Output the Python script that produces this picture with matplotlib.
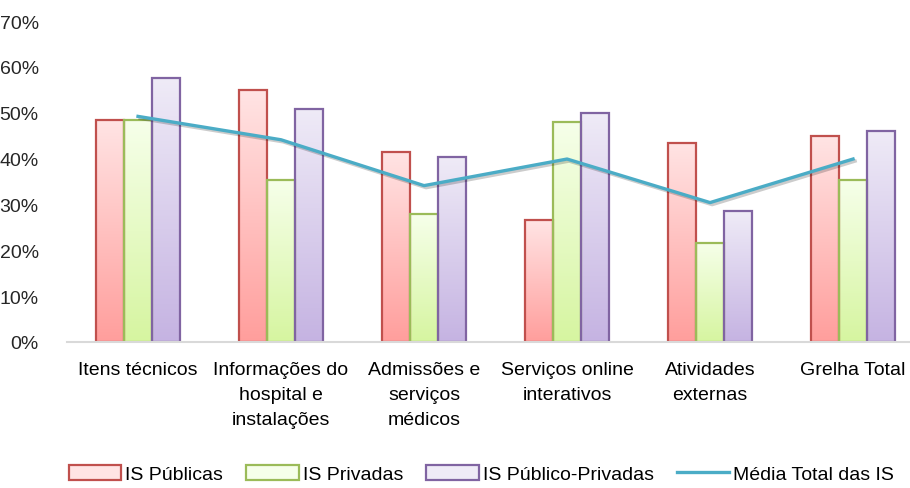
import numpy as np
import matplotlib
matplotlib.use('Agg')
import matplotlib.pyplot as plt
import matplotlib.patheffects as pe
from matplotlib.colors import LinearSegmentedColormap
from matplotlib.patches import Patch
from matplotlib.lines import Line2D

categories = ['Itens técnicos', 'Informações do\nhospital e\ninstalações',
              'Admissões e\nserviços\nmédicos', 'Serviços online\ninterativos',
              'Atividades\nexternas', 'Grelha Total']
publicas = [48.4, 54.9, 41.5, 26.5, 43.5, 44.9]
privadas = [48.4, 35.3, 27.9, 47.9, 21.6, 35.4]
publico_privadas = [57.5, 50.9, 40.4, 50.0, 28.5, 46.0]
media_total = [49.2, 44.1, 34.1, 39.9, 30.4, 39.9]
y_ticks = [0, 10, 20, 30, 40, 50, 60, 70]

plt.rcParams['font.family'] = ['Liberation Sans Narrow', 'Liberation Sans', 'DejaVu Sans']
plt.rcParams['font.size'] = 14


def gradient_bars(ax, bars, top_color, bottom_color):
    cmap = LinearSegmentedColormap.from_list('g', [bottom_color, top_color])
    grad = np.linspace(0, 1, 256).reshape(-1, 1)
    for b in bars:
        x, y = b.get_xy()
        w, h = b.get_width(), b.get_height()
        im = ax.imshow(grad, extent=[x, x + w, y, y + h], origin='lower',
                       cmap=cmap, aspect='auto', zorder=1.5)
        im.set_clip_path(b)


fig = plt.figure(figsize=(9.1, 4.89), dpi=100)
ax = fig.add_axes([0.0731, 0.2986, 0.9429, 0.6564])

x = np.arange(len(categories))
w = 0.195
series = [
    (publicas, '#C0504D', '#FFE4E4', '#FF9E9C', 'IS Públicas'),
    (privadas, '#9BBB59', '#F6FFEA', '#D6F5A0', 'IS Privadas'),
    (publico_privadas, '#8064A2', '#EFEBF7', '#C5B3E2', 'IS Público-Privadas'),
]
handles = []
for i, (vals, edge, top, bottom, label) in enumerate(series):
    bars = ax.bar(x + (i - 1) * w, vals, w, facecolor='none', edgecolor=edge,
                  linewidth=1.6, zorder=2)
    gradient_bars(ax, bars, top, bottom)
    handles.append(Patch(facecolor=top, edgecolor=edge, linewidth=1.6, label=label))

line_color = '#4BACC6'
ax.plot(x, media_total, color=line_color, linewidth=2.4, zorder=3,
        path_effects=[pe.SimpleLineShadow(offset=(1.5, -1.5), alpha=0.2), pe.Normal()])
handles.append(Line2D([0], [0], color=line_color, linewidth=2.4, label='Média Total das IS'))

ax.set_xlim(-0.5, len(categories) - 0.5)
ax.set_ylim(0, 70)
ax.set_yticks(y_ticks)
ax.set_yticklabels([f'{t}%' for t in y_ticks])
ax.set_xticks(x)
ax.set_xticklabels(categories, linespacing=1.6, va='top')
ax.tick_params(axis='y', length=0, pad=20, labelcolor='#262626')
ax.tick_params(axis='x', length=0, pad=14, labelcolor='#000000')

for s in ['top', 'right', 'left']:
    ax.spines[s].set_visible(False)
ax.spines['bottom'].set_color('#D9D9D9')
ax.spines['bottom'].set_linewidth(1.5)
ax.spines['bottom'].set_zorder(4)

fig.legend(handles=handles, loc='center', bbox_to_anchor=(0.529, 0.029), ncol=4,
           frameon=False, handlelength=2.7, handleheight=0.8, handletextpad=0.2,
           columnspacing=1.2, fontsize=14)

fig.savefig('out.png', dpi=100)
